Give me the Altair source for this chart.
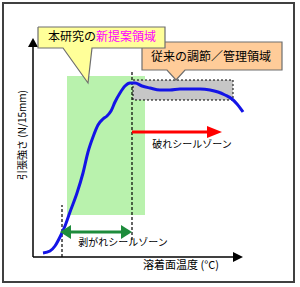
import altair as alt
import pandas as pd

FONT = "Noto Sans CJK JP"

# Conceptual curve: tensile strength vs seal surface temperature (arbitrary units)
temp = [10, 17, 22, 27, 32, 37, 44, 50, 55, 60, 65, 70, 74, 78, 82, 87, 92, 97,
        102, 109, 117, 127, 137, 147, 157, 167, 177, 185, 192, 199, 204, 210]
strength = [4, 6, 11, 20, 31, 45, 64, 84, 105, 120, 132, 138, 141, 146, 155, 164, 171, 174,
            174, 171, 169, 167, 167, 168, 168, 168, 167, 165, 162, 158, 153, 145]

# regions (x1, x2, y1, y2)
region_names = ["frame", "new", "conventional"]
region_x1 = [-30, 34, 100]
region_x2 = [261, 112, 200]
region_y1 = [254, 181, 177]
region_y2 = [-25, 42, 157]

# dashed boundaries
dash_x = [99, 29]
dash_y1 = [17, 0]
dash_y2 = [187, 52]

# arrow shafts
shaft_x1 = [99, 35, 0, 0]
shaft_x2 = [175, 91, 0, 200]
shaft_y1 = [125, 25, 0, 0]
shaft_y2 = [125, 25, 210, 0]
shaft_color = ["#ff0000", "#1e8c3c", "#000000", "#000000"]
shaft_w = [3, 3, 1.5, 1.5]

# arrow heads (vertical triangles)
head_id = ["red", "red", "gl", "gl", "gr", "gr", "xa", "xa"]
head_x = [174, 189, 27, 38, 88, 99, 200, 210]
head_y = [125, 125, 25, 32, 32, 25, 5, 0]
head_y2 = [125, 125, 25, 18, 18, 25, -5, 0]
head_col = ["#ff0000", "#ff0000", "#1e8c3c", "#1e8c3c", "#1e8c3c", "#1e8c3c", "#000000", "#000000"]
# red head is taller
head_y[0], head_y2[0] = 131, 119
# y-axis head (horizontal triangle)
yhead_y = [210, 219]
yhead_x = [-5, 0]
yhead_x2 = [5, 0]

# callouts
c1_x = [5, 132, 132, 59, 55, 30, 5, 5]
c1_y = [230, 230, 209, 209, 174, 209, 209, 230]
c2_x = [109, 249, 249, 152, 143, 134, 109, 109]
c2_y = [215, 215, 187, 187, 177, 187, 187, 215]

# texts
lt_text = ["本研究の", "新提案領域"]
lt_x = [15, 63]
lt_y = [220, 220]
lt_col = ["#000000", "#ff00ff"]

ct_text = ["従来の調節／管理領域", "破れシールゾーン", "剥がれシールゾーン", "溶着面温度 (°C)", "引張強さ (N/15mm)"]
ct_x = [178, 159, 90, 148, -10]
ct_y = [200, 112, 14, -9, 122]
ct_size = [12, 10, 10, 11, 10]
ct_angle = [0, 0, 0, 0, 270]

xs = alt.Scale(domain=[-33, 267], nice=False, zero=False)
ys = alt.Scale(domain=[-30, 257], nice=False, zero=False)
X = lambda f: alt.X(f, type="quantitative", scale=xs, axis=None, stack=None)
Y = lambda f: alt.Y(f, type="quantitative", scale=ys, axis=None, stack=None)

reg = pd.DataFrame(dict(name=region_names, x1=region_x1, x2=region_x2, y1=region_y1, y2=region_y2))
frame = alt.Chart(reg[reg.name == "frame"]).mark_rect(
    fill="white", stroke="#404040", strokeWidth=2).encode(x=X("x1"), x2="x2", y=Y("y1"), y2="y2")
green = alt.Chart(reg[reg.name == "new"]).mark_rect(
    fill="#b9f2ad").encode(x=X("x1"), x2="x2", y=Y("y1"), y2="y2")
grey = alt.Chart(reg[reg.name == "conventional"]).mark_rect(
    fill="#c6c6c6", stroke="#000000", strokeWidth=1, strokeDash=[2, 2]).encode(
    x=X("x1"), x2="x2", y=Y("y1"), y2="y2")

dash = alt.Chart(pd.DataFrame(dict(x=dash_x, y1=dash_y1, y2=dash_y2))).mark_rule(
    color="black", strokeWidth=1.2, strokeDash=[3, 2]).encode(x=X("x"), y=Y("y1"), y2="y2")

curve = alt.Chart(pd.DataFrame(dict(t=temp, s=strength))).mark_line(
    color="#1414e6", strokeWidth=3, interpolate="monotone").encode(x=X("t"), y=Y("s"))

shafts = alt.Chart(pd.DataFrame(dict(x1=shaft_x1, x2=shaft_x2, y1=shaft_y1, y2=shaft_y2,
                                     c=shaft_color, w=shaft_w))).mark_rule().encode(
    x=X("x1"), x2="x2", y=Y("y1"), y2="y2",
    color=alt.Color("c:N", scale=None), strokeWidth=alt.StrokeWidth("w:Q", scale=None))

heads = alt.Chart(pd.DataFrame(dict(id=head_id, x=head_x, y=head_y, y2=head_y2, c=head_col))).mark_area(
    orient="vertical").encode(
    x=X("x"), y=Y("y"), y2="y2", detail="id:N", color=alt.Color("c:N", scale=None))

yhead = alt.Chart(pd.DataFrame(dict(x=yhead_x, x2=yhead_x2, y=yhead_y))).mark_area(
    orient="horizontal", color="black").encode(y=Y("y"), x=X("x"), x2="x2")

c1 = alt.Chart(pd.DataFrame(dict(i=range(len(c1_x)), x=c1_x, y=c1_y))).mark_line(
    fill="#ffff99", stroke="#6e6e6e", strokeWidth=1.2).encode(x=X("x"), y=Y("y"), order="i:Q")
c2 = alt.Chart(pd.DataFrame(dict(i=range(len(c2_x)), x=c2_x, y=c2_y))).mark_line(
    fill="#ffcc99", stroke="#6e6e6e", strokeWidth=1.2).encode(x=X("x"), y=Y("y"), order="i:Q")

ltext = alt.Chart(pd.DataFrame(dict(t=lt_text, x=lt_x, y=lt_y, c=lt_col))).mark_text(
    align="left", baseline="middle", font=FONT, fontSize=12).encode(
    x=X("x"), y=Y("y"), text="t:N", color=alt.Color("c:N", scale=None))

ctext = alt.Chart(pd.DataFrame(dict(t=ct_text, x=ct_x, y=ct_y, s=ct_size, a=ct_angle))).mark_text(
    align="center", baseline="middle", font=FONT, color="#000000").encode(
    x=X("x"), y=Y("y"), text="t:N", size=alt.Size("s:Q", scale=None),
    angle=alt.Angle("a:Q", scale=None))

chart = alt.layer(frame, green, grey, dash, curve, shafts, heads, yhead, c2, c1, ltext, ctext).properties(
    width=300, height=287, autosize=alt.AutoSizeParams(type="none"), padding=0,
    background="white").configure_view(strokeWidth=0)

chart.save("out.html", embed_options={"renderer": "svg", "actions": False})
